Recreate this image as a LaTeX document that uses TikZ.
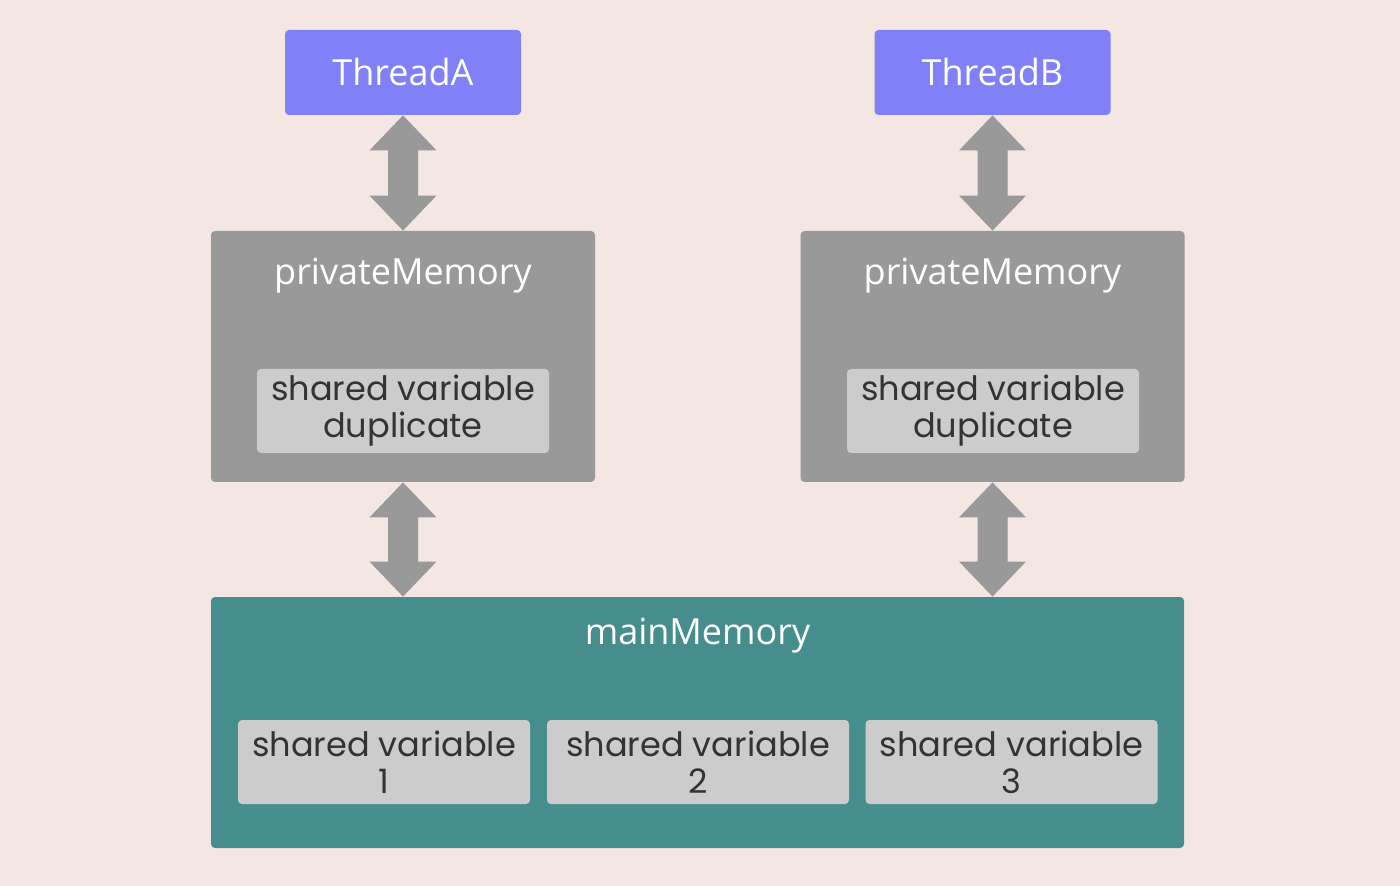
\documentclass[tikz,border=0pt]{standalone}
\usepackage{fontspec}
\setmainfont{Open Sans}
\newfontfamily\varfont{Poppins}
\usetikzlibrary{calc}

\definecolor{bgpink}{RGB}{244,230,226}
\definecolor{threadblue}{RGB}{128,128,248}
\definecolor{memgray}{RGB}{153,153,153}
\definecolor{varlight}{RGB}{204,204,204}
\definecolor{mainteal}{RGB}{70,142,142}
\definecolor{vartext}{RGB}{51,51,51}

\tikzset{
  threadbox/.style={fill=threadblue, rounded corners=2pt, minimum width=118pt,
    minimum height=42.5pt, inner sep=0pt, text=white, font=\fontsize{18}{22}\selectfont},
  membox/.style={fill=memgray, rounded corners=2pt, minimum width=192pt,
    minimum height=125.5pt, inner sep=0pt},
  mainbox/.style={fill=mainteal, rounded corners=2pt, minimum width=486.5pt,
    minimum height=125.5pt, inner sep=0pt},
  titletext/.style={text=white, inner sep=0pt, font=\fontsize{18}{22}\selectfont},
  varbox/.style={fill=varlight, rounded corners=2pt, minimum width=146pt,
    minimum height=42pt, inner sep=0pt, align=center, text=vartext,
    font=\varfont\fontsize{16.8}{18.5}\selectfont},
}

\newcommand\linkarrow[2]{%
  \fill[memgray] (#1) -- ++(33.5,35) -- ++(-18.5,0) -- ($(#2)+(15,-35)$)
    -- ++(18.5,0) -- (#2) -- ++(-33.5,-35) -- ++(18.5,0)
    -- ($(#1)+(-15,35)$) -- ++(-18.5,0) -- cycle;}

\begin{document}
\begin{tikzpicture}[x=0.5pt, y=-0.5pt]
  \useasboundingbox (0,0) rectangle (1400,886);
  \fill[bgpink] (0,0) rectangle (1400,886);

  % threads
  \node[threadbox] (tA) at (403,72.5) {ThreadA};
  \node[threadbox] (tB) at (992.5,72.5) {ThreadB};

  % private memories
  \node[membox] (pA) at (403,356.5) {};
  \node[membox] (pB) at (992.5,356.5) {};
  \node[titletext] (pAtitle) at (403,276) {privateMemory};
  \node[titletext] (pBtitle) at (992.5,276) {privateMemory};
  \node[varbox] (dA) at (403,411) {shared variable\\duplicate};
  \node[varbox] (dB) at (993,411) {shared variable\\duplicate};

  % main memory
  \node[mainbox] (main) at (697.5,722.5) {};
  \node[titletext] (maintitle) at (697.5,636) {mainMemory};
  \node[varbox] (s1) at (384,762) {shared variable\\1};
  \node[varbox, minimum width=151pt] (s2) at (698,762) {shared variable\\2};
  \node[varbox] (s3) at (1011.5,762) {shared variable\\3};

  % links
  \linkarrow{tA.south}{pA.north}
  \linkarrow{tB.south}{pB.north}
  \linkarrow{pA.south}{pA.south |- main.north}
  \linkarrow{pB.south}{pB.south |- main.north}
\end{tikzpicture}
\end{document}
